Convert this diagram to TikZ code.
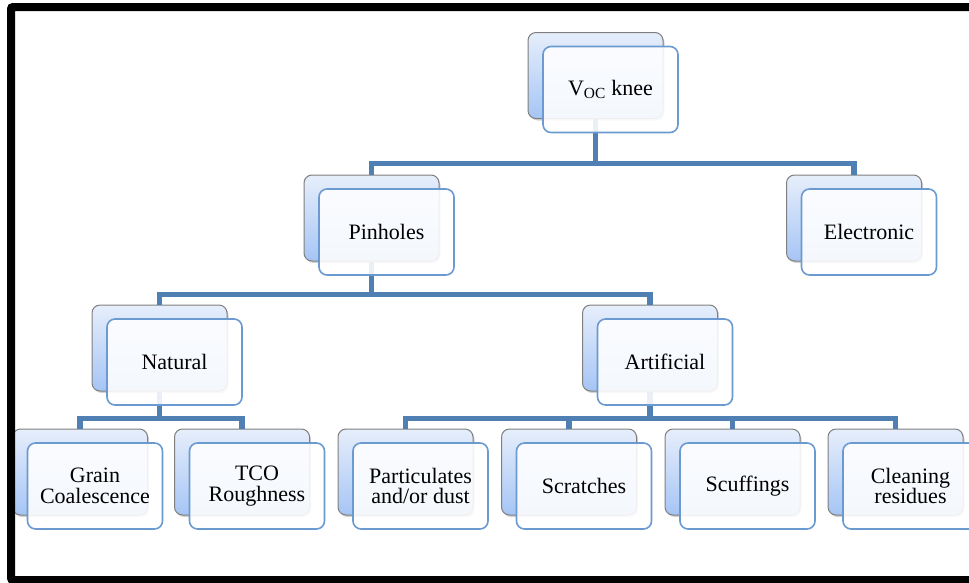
\documentclass[tikz,border=0pt]{standalone}
\usepackage{fontspec}
\setmainfont{Liberation Serif}
\usepackage{tikz}
\usetikzlibrary{shadows}
\definecolor{backtop}{HTML}{E6EEFB}
\definecolor{backbot}{HTML}{A6C5F5}
\definecolor{backgray}{HTML}{7F7F7F}
\definecolor{frontblue}{HTML}{6A9AD0}
\definecolor{connblue}{HTML}{4F7FB3}

\begin{document}
\begin{tikzpicture}[x=1pt,y=-1pt,
  bk/.style={draw=backgray,line width=1pt,rounded corners=8pt,
             minimum width=135pt,minimum height=86pt,
             top color=backtop,bottom color=backbot,
             drop shadow={opacity=0.35,shadow xshift=1.5pt,shadow yshift=-2pt}},
  fr/.style={draw=frontblue,line width=1.6pt,rounded corners=8pt,
             minimum width=135pt,minimum height=86pt,
             fill=white,fill opacity=0.88,text opacity=1,align=center,
             font=\fontsize{22}{20.5}\selectfont},
  conn/.style={draw=connblue,line width=5.5pt},
]
  \clip (0,0) rectangle (969,582);

  % Back shapes
  \node[bk] (vocB) at (595.5,75.5) {};
  \node[bk] (pinB) at (371.5,218) {};
  \node[bk] (eleB) at (854,218) {};
  \node[bk] (natB) at (159.5,348) {};
  \node[bk] (artB) at (650,348) {};
  \node[bk] (graB) at (80,472) {};
  \node[bk] (tcoB) at (242,472) {};
  \node[bk] (parB) at (405.5,472) {};
  \node[bk] (scrB) at (569,472) {};
  \node[bk] (scuB) at (732.5,472) {};
  \node[bk] (clnB) at (895.5,472) {};

  % Connectors
  \draw[conn] (vocB.south) -- ++(0,44.5) -| (pinB.north);
  \draw[conn] (vocB.south) -- ++(0,44.5) -| (eleB.north);
  \draw[conn] (pinB.south) -- ++(0,33) -| (natB.north);
  \draw[conn] (pinB.south) -- ++(0,33) -| (artB.north);
  \draw[conn] (natB.south) -- ++(0,27) -| (graB.north);
  \draw[conn] (natB.south) -- ++(0,27) -| (tcoB.north);
  \draw[conn] (artB.south) -- ++(0,27) -| (parB.north);
  \draw[conn] (artB.south) -- ++(0,27) -| (scrB.north);
  \draw[conn] (artB.south) -- ++(0,27) -| (scuB.north);
  \draw[conn] (artB.south) -- ++(0,27) -| (clnB.north);

  % Front shapes with labels
  \node[fr] (voc) at (610.5,89.5) {V\textsubscript{OC} knee};
  \node[fr] (pin) at (386.5,232) {Pinholes};
  \node[fr] (ele) at (869,232) {Electronic};
  \node[fr] (nat) at (174.5,362) {Natural};
  \node[fr] (art) at (665,362) {Artificial};
  \node[fr] (gra) at (95,486) {Grain\\Coalescence};
  \node[fr] (tco) at (257,486) {TCO\\Roughness};
  \node[fr] (par) at (420.5,486) {Particulates\\and/or dust};
  \node[fr] (scr) at (584,486) {Scratches};
  \node[fr] (scu) at (747.5,486) {Scuffings};
  \node[fr] (cln) at (910.5,486) {Cleaning\\residues};

  % Outer frame
  \draw[line width=8pt,rounded corners=2pt] (11,7) rectangle (1000,580);
\end{tikzpicture}
\end{document}
